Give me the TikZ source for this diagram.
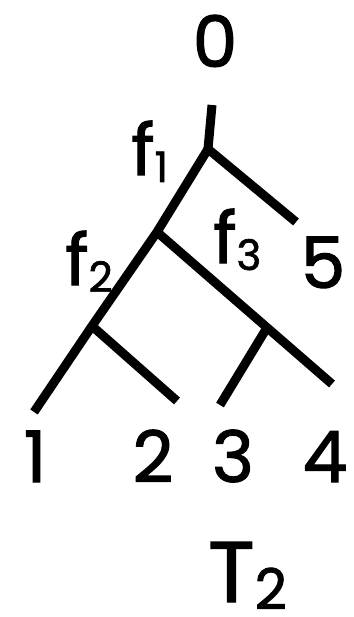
\documentclass[tikz,border=0pt]{standalone}
\usepackage{fontspec}
\setmainfont{Poppins}[FakeBold=1.6]
\begin{document}
\begin{tikzpicture}[x=1pt,y=-1pt,
  br/.style={line width=9pt,line cap=butt},
  lab/.style={inner sep=0pt,anchor=base,font=\fontsize{71}{71}\selectfont}]
\useasboundingbox (0,0) rectangle (353,617);
% junctions and leaves
\coordinate (top) at (212,105);
\coordinate (r) at (208,149);
\coordinate (a) at (157,232);
\coordinate (b) at (92,326);
\coordinate (c) at (268,326);
\coordinate (l1) at (34,412);
\coordinate (l2) at (177,401);
\coordinate (l3) at (220,405);
\coordinate (l4) at (332,384);
\coordinate (l5) at (296,222);
\draw[br] (top) -- (r);
\draw[br] (r) -- (l5);
\draw[br] (r) -- (a) -- (b) -- (l1);
\draw[br] (a) -- (l4);
\draw[br] (b) -- (l2);
\draw[br] (c) -- (l3);
% labels
\node[lab] (n0) at (215,67) {0};
\node[lab] (n5) at (323,288) {5};
\node[lab] (n1) at (35,482) {1};
\node[lab] (n2) at (153,482) {2};
\node[lab] (n3) at (233,482) {3};
\node[lab] (n4) at (325,482) {4};
\node[lab,anchor=base west] (f1) at (131,175) {f\raisebox{-7pt}{\fontsize{42}{42}\selectfont 1}};
\node[lab,anchor=base west] (f2) at (65,285) {f\raisebox{-7pt}{\fontsize{42}{42}\selectfont 2}};
\node[lab,anchor=base west] (f3) at (213,263) {f\raisebox{-7pt}{\fontsize{42}{42}\selectfont 3}};
\node[inner sep=0pt,anchor=base west,font=\fontsize{86}{86}\selectfont] (t2) at (208,602) {T\raisebox{-7pt}{\fontsize{56}{56}\selectfont 2}};
\end{tikzpicture}
\end{document}
